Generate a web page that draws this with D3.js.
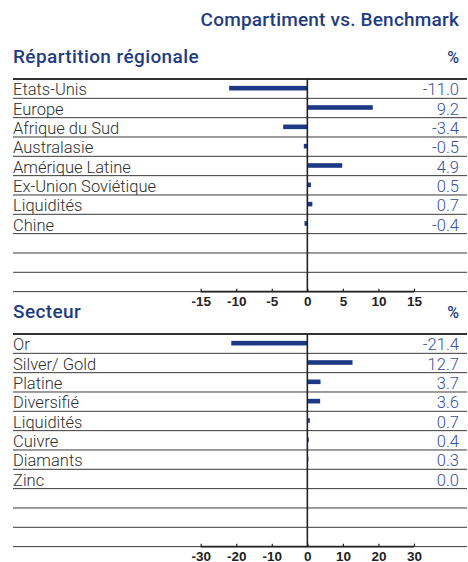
<!DOCTYPE html>
<html>
<head>
<meta charset="utf-8">
<script src="https://cdn.jsdelivr.net/npm/d3@7"></script>
<style>
  html, body { margin: 0; padding: 0; background: #fff; }
  svg { display: block; }
</style>
</head>
<body>
<svg id="chart" width="468" height="562"></svg>
<script>
// Régions
const regionCategories = ["Etats-Unis", "Europe", "Afrique du Sud", "Australasie",
  "Amérique Latine", "Ex-Union Soviétique", "Liquidités", "Chine"];
const regionValues = [-11.0, 9.2, -3.4, -0.5, 4.9, 0.5, 0.7, -0.4];
const regionTicks = [-15, -10, -5, 0, 5, 10, 15];

// Secteurs
const sectorCategories = ["Or", "Silver/ Gold", "Platine", "Diversifié",
  "Liquidités", "Cuivre", "Diamants", "Zinc"];
const sectorValues = [-21.4, 12.7, 3.7, 3.6, 0.7, 0.4, 0.3, 0.0];
const sectorTicks = [-30, -20, -10, 0, 10, 20, 30];

const titleText = "Compartiment vs. Benchmark";

const svg = d3.select("#chart");
const left = 13, right = 467, valueRight = 459;
const navy = "#1d3885";
const titleBlue = "#1f3c82";
const valueBlue = "#3550a0";
const textGrey = "#2e2e2e";
const titleFont = "Roboto, 'Liberation Sans', sans-serif";
const bodyFont = "Roboto, 'Liberation Sans', Arial, sans-serif";

svg.append("text")
  .attr("x", valueRight).attr("y", 26)
  .attr("text-anchor", "end")
  .attr("font-family", titleFont).attr("font-weight", 500)
  .attr("font-size", 19).attr("letter-spacing", 0.2).attr("fill", titleBlue)
  .text(titleText);

function panel(opts) {
  const { top, heading, cats, vals, ticks } = opts;
  const slots = cats.concat(["_1", "_2", "_3"]);
  const rowH = 19.33;
  const y = d3.scaleBand().domain(slots).range([top, top + rowH * slots.length]).paddingInner(0);
  const x = d3.scaleLinear().domain([ticks[0], ticks[ticks.length - 1]]).range([200.7, 414]);
  const g = svg.append("g");
  const bottom = top + rowH * slots.length;

  // heading + unit
  g.append("text")
    .attr("x", left).attr("y", top - 16)
    .attr("font-family", titleFont).attr("font-weight", 500)
    .attr("font-size", 19).attr("letter-spacing", 0.4).attr("fill", titleBlue)
    .text(heading);
  g.append("text")
    .attr("x", valueRight).attr("y", top - 16)
    .attr("text-anchor", "end")
    .attr("font-family", titleFont).attr("font-weight", 500)
    .attr("font-size", 16).attr("fill", titleBlue)
    .text("%");

  // row separators
  const bounds = slots.slice(1).map(s => y(s)).concat([bottom]);
  g.selectAll("line.row").data(bounds).join("line")
    .attr("class", "row")
    .attr("x1", left).attr("x2", right)
    .attr("y1", d => d).attr("y2", d => d)
    .attr("stroke", "#3a3a3a").attr("stroke-width", 1);
  g.append("line")
    .attr("x1", left).attr("x2", right)
    .attr("y1", top).attr("y2", top)
    .attr("stroke", "#333").attr("stroke-width", 2);

  // bars
  const data = cats.map((c, i) => ({ c, v: vals[i] }));
  const barH = 4.6;
  g.selectAll("rect.bar").data(data).join("rect")
    .attr("class", "bar")
    .attr("x", d => x(Math.min(0, d.v)))
    .attr("width", d => Math.abs(x(d.v) - x(0)))
    .attr("y", d => y(d.c) + y.bandwidth() / 2 - barH / 2 - 0.5)
    .attr("height", barH)
    .attr("fill", navy);

  // zero line
  g.append("line")
    .attr("x1", x(0)).attr("x2", x(0))
    .attr("y1", top).attr("y2", bottom)
    .attr("stroke", "#222").attr("stroke-width", 1.6);

  // category labels
  g.selectAll("text.cat").data(data).join("text")
    .attr("class", "cat")
    .attr("x", left).attr("y", d => y(d.c) + y.bandwidth() - 3)
    .attr("font-family", bodyFont).attr("font-weight", 300).attr("font-size", 16.5)
    .attr("fill", textGrey)
    .text(d => d.c);

  // values
  g.selectAll("text.val").data(data).join("text")
    .attr("class", "val")
    .attr("x", valueRight).attr("y", d => y(d.c) + y.bandwidth() - 3)
    .attr("text-anchor", "end")
    .attr("font-family", bodyFont).attr("font-weight", 300).attr("font-size", 16.5)
    .attr("fill", valueBlue)
    .text(d => d.v.toFixed(1));

  // axis
  const axis = d3.axisTop(x).tickValues(ticks).tickSize(3).tickFormat(d3.format("d"));
  const ag = g.append("g").attr("transform", `translate(0,${bottom})`).call(axis);
  ag.select(".domain").attr("stroke", "#222").attr("stroke-width", 1.6)
    .attr("d", `M${x(ticks[0])},0H${x(ticks[ticks.length - 1])}`);
  ag.selectAll(".tick line").attr("stroke", "#222").attr("stroke-width", 1.2);
  ag.selectAll(".tick text")
    .attr("y", 14.5).attr("dy", 0)
    .attr("font-family", "'Liberation Sans', Arial, sans-serif").attr("font-weight", "bold")
    .attr("font-size", 13.5).attr("fill", "#222")
    .text(d => d < 0 ? "-" + Math.abs(d) : String(d));
}

panel({ top: 79, heading: "Répartition régionale", cats: regionCategories, vals: regionValues, ticks: regionTicks });
panel({ top: 334, heading: "Secteur", cats: sectorCategories, vals: sectorValues, ticks: sectorTicks });
</script>
</body>
</html>
